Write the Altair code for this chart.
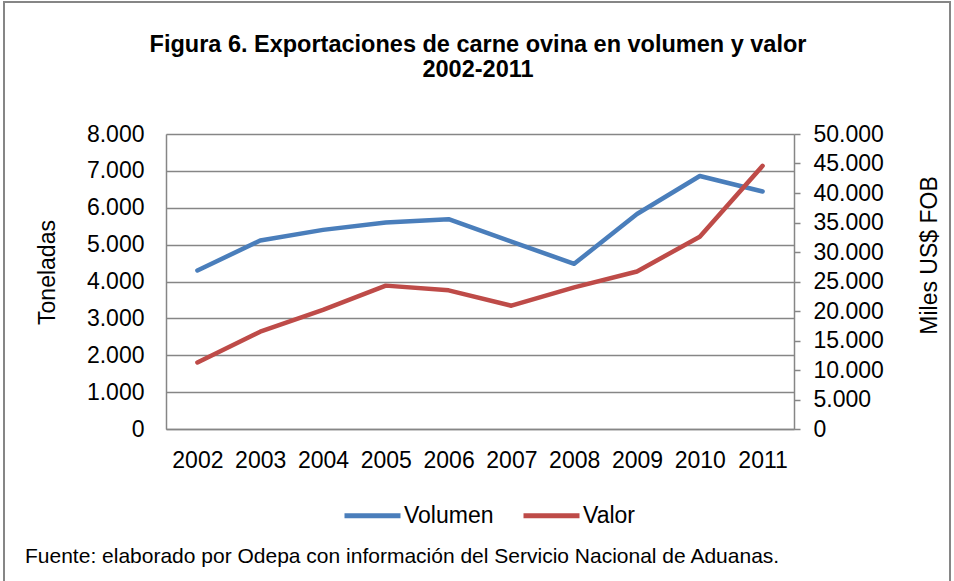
import altair as alt
import pandas as pd

years = ["2002", "2003", "2004", "2005", "2006", "2007", "2008", "2009", "2010", "2011"]
volumen = [4300, 5110, 5400, 5600, 5690, 5080, 4480, 5830, 6860, 6440]
valor = [11280, 16500, 20200, 24300, 23500, 20900, 24000, 26700, 32600, 44600]
series = ["Volumen", "Valor"]
colors = ["#4A7EBB", "#BE4B48"]
left_ticks = [0, 1000, 2000, 3000, 4000, 5000, 6000, 7000, 8000]
right_ticks = [0, 5000, 10000, 15000, 20000, 25000, 30000, 35000, 40000, 45000, 50000]
title_lines = ["Figura 6. Exportaciones de carne ovina en volumen y valor", "2002-2011"]
footnote = "Fuente: elaborado por Odepa con información del Servicio Nacional de Aduanas."

FONT = "Liberation Sans"
GRAY = "#868686"
LBL = "replace(format(datum.value, ','), ',', '.')"

df = pd.DataFrame({"year": years, "volumen": volumen, "valor": valor})

color_scale = alt.Scale(domain=series, range=colors)
legend = alt.Legend(
    orient="none", legendX=176, legendY=351, direction="horizontal", title=None,
    symbolType="stroke", symbolSize=3136, symbolStrokeWidth=5, labelFontSize=23,
    labelOffset=1, columnPadding=19, labelFont=FONT, labelColor="black",
)

x_enc = alt.X("year:O", sort=years, scale=alt.Scale(type="point", padding=0.5),
              axis=alt.Axis(title=None, labelAngle=0, ticks=False, domainColor=GRAY,
                            domainWidth=1.5, labelFontSize=23, labelPadding=20,
                            labelColor="black", labelFont=FONT))

vol = alt.Chart(df).transform_calculate(serie="'Volumen'").mark_line(
    strokeWidth=4.5, strokeCap="round", strokeJoin="round"
).encode(
    x=x_enc,
    y=alt.Y("volumen:Q", scale=alt.Scale(domain=[0, 8000]),
            axis=alt.Axis(title="Toneladas", values=left_ticks, labelExpr=LBL, ticks=False,
                          grid=True, gridColor=GRAY, gridWidth=1.5, domainColor=GRAY,
                          domainWidth=1.5, labelFontSize=23, labelPadding=22,
                          labelColor="black", labelFont=FONT,
                          titleFontSize=23, titleFontWeight="normal", titleFont=FONT,
                          titleColor="black", titleAngle=270, titleX=-119, titleY=138,
                          titleAlign="center", titleBaseline="middle")),
    color=alt.Color("serie:N", scale=color_scale, legend=legend),
)

val = alt.Chart(df).transform_calculate(serie="'Valor'").mark_line(
    strokeWidth=4.5, strokeCap="round", strokeJoin="round"
).encode(
    x=x_enc,
    y=alt.Y("valor:Q", scale=alt.Scale(domain=[0, 50000]),
            axis=alt.Axis(title="Miles US$ FOB", orient="right", values=right_ticks,
                          labelExpr=LBL, ticks=True, tickSize=6, tickColor=GRAY,
                          tickWidth=1.5, grid=False, domainColor=GRAY, domainWidth=1.5,
                          labelFontSize=23, labelPadding=13, labelColor="black",
                          labelFont=FONT, titleFontSize=23, titleFontWeight="normal",
                          titleFont=FONT, titleColor="black", titleAngle=270,
                          titleX=135, titleY=121, titleAlign="center",
                          titleBaseline="middle")),
    color=alt.Color("serie:N", scale=color_scale, legend=legend),
)

title = alt.Chart(pd.DataFrame({"t": ["\n".join(title_lines)]})).mark_text(
    align="center", baseline="middle", fontSize=23.5, fontWeight="bold", font=FONT,
    color="black", lineBreak="\n", lineHeight=25
).encode(x=alt.value(312), y=alt.value(-89), text="t:N")

note = alt.Chart(pd.DataFrame({"t": [footnote]})).mark_text(
    align="left", baseline="middle", fontSize=21, font=FONT, color="black"
).encode(x=alt.value(-141), y=alt.value(423), text="t:N")

border = alt.Chart(pd.DataFrame({"a": [0]})).mark_rect(
    fillOpacity=0, stroke=GRAY, strokeWidth=2
).encode(x=alt.value(-162), x2=alt.value(784), y=alt.value(-132), y2=alt.value(460))

chart = alt.layer(vol, val, title, note, border).resolve_scale(y="independent").properties(
    width=628, height=295,
    autosize=alt.AutoSizeParams(type="none"),
    padding={"left": 166, "top": 134, "right": 160, "bottom": 152},
).configure_view(strokeWidth=0).configure(background="white")

chart.save("out.html", embed_options={"renderer": "svg", "actions": False})
